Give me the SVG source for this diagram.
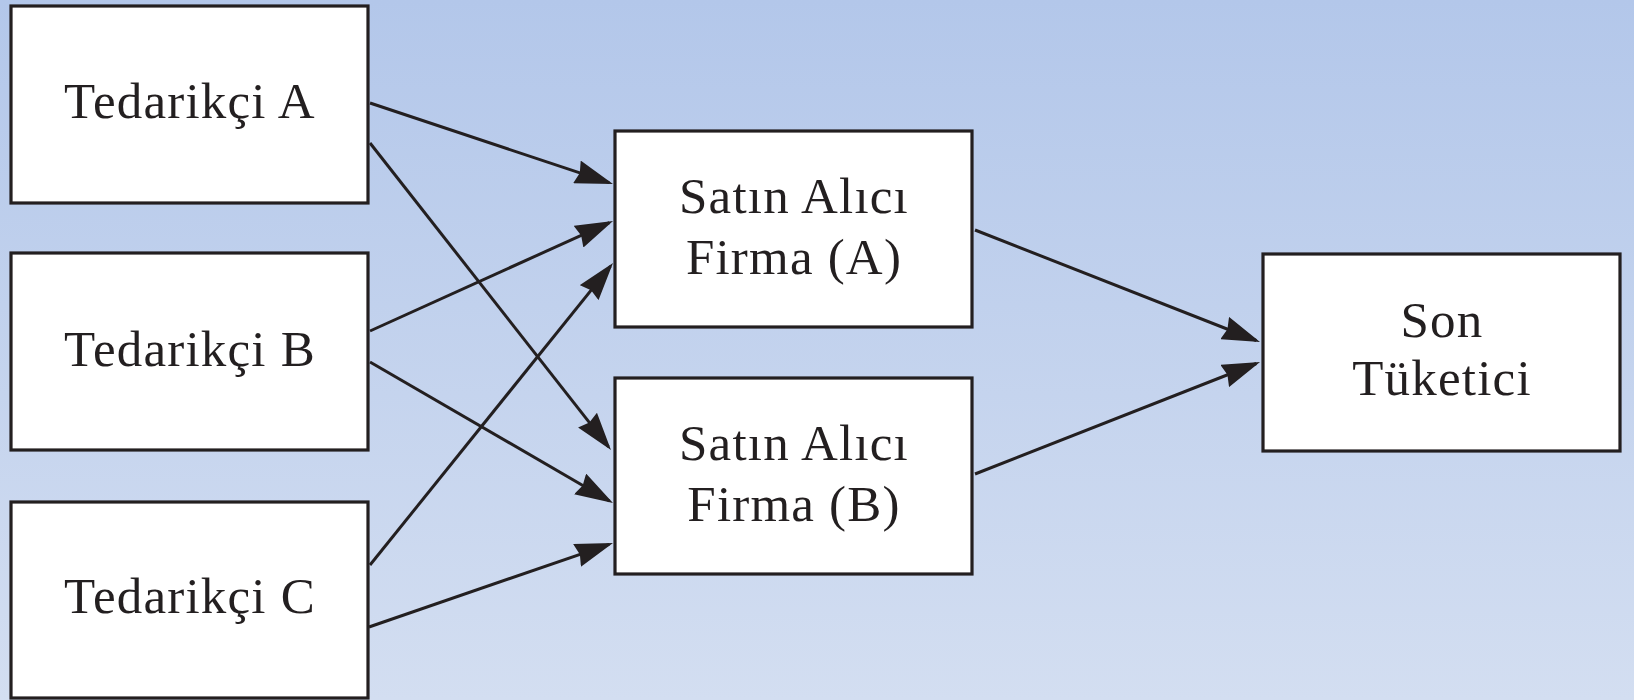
<svg xmlns="http://www.w3.org/2000/svg" width="1634" height="700" viewBox="0 0 1634 700">
  <defs>
    <linearGradient id="bg" x1="0" y1="0" x2="0" y2="1">
      <stop offset="0" stop-color="#b3c7ea"/>
      <stop offset="1" stop-color="#d3def1"/>
    </linearGradient>
    <marker id="arrow" viewBox="0 0 38 24" refX="34" refY="12" markerWidth="38" markerHeight="24" markerUnits="userSpaceOnUse" orient="auto">
      <path d="M0,0 L38,12 L0,24 L3,12 z" fill="#231f20"/>
    </marker>
    <style>
      .box { fill: #ffffff; stroke: #231f20; stroke-width: 3.2; }
      .lbl { font-family: "Liberation Serif", "DejaVu Serif", serif; font-size: 51px; letter-spacing: 1.2px; fill: #231f20; text-anchor: middle; }
      .conn { fill: none; stroke: #231f20; stroke-width: 3; marker-end: url(#arrow); }
    </style>
  </defs>

  <rect x="0" y="0" width="1634" height="700" fill="url(#bg)"/>

  <!-- suppliers -->
  <g id="tedarikci-a">
    <rect class="box" x="11" y="6" width="357" height="197"/>
    <text class="lbl" x="190" y="118">Tedarikçi A</text>
  </g>
  <g id="tedarikci-b">
    <rect class="box" x="11" y="253" width="357" height="197"/>
    <text class="lbl" x="190" y="366">Tedarikçi B</text>
  </g>
  <g id="tedarikci-c">
    <rect class="box" x="11" y="502" width="357" height="196"/>
    <text class="lbl" x="190" y="613">Tedarikçi C</text>
  </g>

  <!-- buying firms -->
  <g id="firma-a">
    <rect class="box" x="615" y="131" width="357" height="196"/>
    <text class="lbl" x="794" y="213">Satın Alıcı</text>
    <text class="lbl" x="794" y="274">Firma (A)</text>
  </g>
  <g id="firma-b">
    <rect class="box" x="615" y="378" width="357" height="196"/>
    <text class="lbl" x="794" y="460">Satın Alıcı</text>
    <text class="lbl" x="794" y="521">Firma (B)</text>
  </g>

  <!-- end consumer -->
  <g id="son-tuketici">
    <rect class="box" x="1263" y="254" width="357" height="197"/>
    <text class="lbl" x="1442" y="337">Son</text>
    <text class="lbl" x="1442" y="395">Tüketici</text>
  </g>

  <!-- connectors -->
  <g id="connectors">
    <path class="conn" d="M370,103 L609.2,182.7"/>
    <path class="conn" d="M370,143 L608.5,446.9"/>
    <path class="conn" d="M370,331 L609.4,222.6"/>
    <path class="conn" d="M370,362 L609.5,501"/>
    <path class="conn" d="M370,565 L610.5,266.1"/>
    <path class="conn" d="M369,627 L609.2,544.3"/>
    <path class="conn" d="M975,230 L1256.3,340.5"/>
    <path class="conn" d="M975,474 L1256.3,363.5"/>
  </g>
</svg>
